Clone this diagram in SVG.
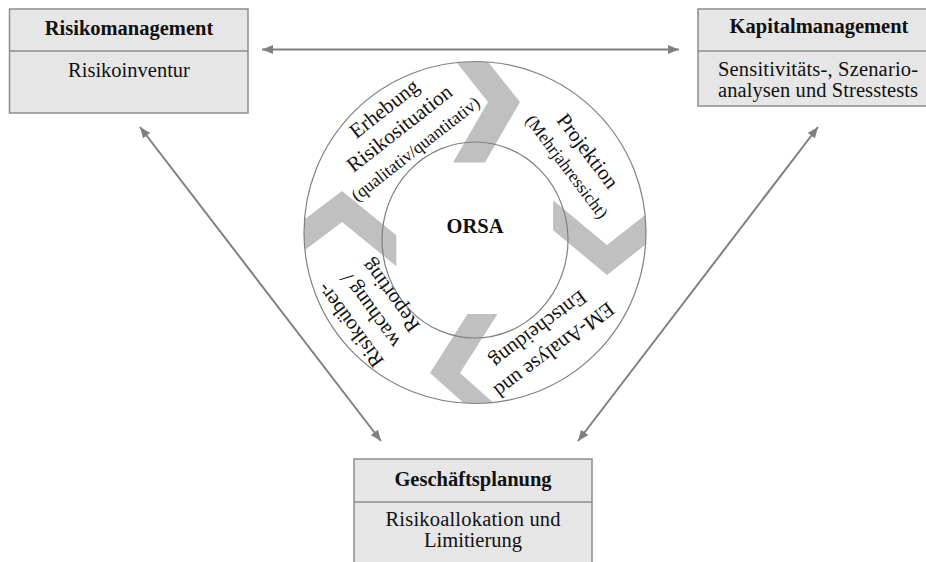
<svg xmlns="http://www.w3.org/2000/svg" width="926" height="562" viewBox="0 0 926 562">
  <style>
    .box { fill: #e6e6e6; stroke: #8c8c8c; stroke-width: 1.5; }
    .div { stroke: #8c8c8c; stroke-width: 1.5; }
    .t { font-family: "Liberation Serif", "Times New Roman", serif; font-size: 20.5px; fill: #111111; text-anchor: middle; }
    .b { font-weight: bold; }
    .seg { font-size: 21px; }
    .s { font-size: 17.5px; }
    .link { stroke: #808080; stroke-width: 2; fill: none; marker-start: url(#arr); marker-end: url(#arr); }
    .chev { fill: #c0c0c0; }
    .ring { fill: none; stroke: #808080; stroke-width: 1.2; }
  </style>
  <defs>
    <marker id="arr" markerUnits="userSpaceOnUse" markerWidth="12" markerHeight="10" refX="11" refY="5" orient="auto-start-reverse">
      <path d="M0,0.5 L11,5 L0,9.5 z" fill="#808080"/>
    </marker>
    <clipPath id="outerClip">
      <circle cx="475" cy="232.5" r="171"/>
    </clipPath>
  </defs>

  <rect width="926" height="562" fill="#ffffff"/>

  <!-- connectors between the three management areas -->
  <g id="connectors">
    <line class="link" x1="262" y1="49.5" x2="679" y2="49.5"/>
    <line class="link" x1="140" y1="127" x2="381" y2="441"/>
    <line class="link" x1="818" y1="127" x2="578" y2="441"/>
  </g>

  <!-- ORSA cycle -->
  <g id="orsa-cycle">
    <circle cx="475" cy="232.5" r="171" fill="#ffffff"/>
    <g clip-path="url(#outerClip)">
      <polygon class="chev" points="444.4,47.2 488,102 453,162.6 485,162.6 520,102 476.4,47.2"/>
      <polygon class="chev" points="553.1,200.2 607,245 662,201.6 662,231.6 607,275 553.1,230.2"/>
      <polygon class="chev" points="467.5,313.9 430,373 482.2,419.7 512.2,419.7 460,373 497.5,313.9"/>
      <polygon class="chev" points="286.2,233.2 342,191 396.3,235.3 396.3,266.3 342,222 286.2,264.2"/>
    </g>
    <circle class="ring" cx="475" cy="232.5" r="171"/>
    <ellipse class="ring" cx="475" cy="240" rx="93" ry="98" fill="#ffffff"/>

    <g id="seg-erhebung" transform="translate(400,129) rotate(-38)">
      <text class="t seg" x="0" y="-19">Erhebung</text>
      <text class="t seg" x="0" y="6">Risikosituation</text>
      <text class="t s" x="0" y="31">(qualitativ/quantitativ)</text>
    </g>
    <g id="seg-projektion" transform="translate(577,159) rotate(53)">
      <text class="t seg" x="0" y="-6.5">Projektion</text>
      <text class="t s" x="0" y="18.5">(Mehrjahressicht)</text>
    </g>
    <g id="seg-analyse" transform="translate(546,339) rotate(143)">
      <text class="t seg" x="0" y="-7">EM-Analyse und</text>
      <text class="t seg" x="0" y="19">Entscheidung</text>
    </g>
    <g id="seg-reporting" transform="translate(371,310) rotate(234)">
      <text class="t seg" x="0" y="-19">Risikoüber-</text>
      <text class="t seg" x="0" y="6">wachung /</text>
      <text class="t seg" x="0" y="31">Reporting</text>
    </g>
    <text class="t b" x="475" y="233">ORSA</text>
  </g>

  <g id="risikomanagement">
    <rect class="box" x="9.5" y="9" width="238.5" height="104"/>
    <line class="div" x1="9.5" y1="51" x2="248" y2="51"/>
    <text class="t b" x="129" y="35">Risikomanagement</text>
    <text class="t" x="129" y="77">Risikoinventur</text>
  </g>

  <g id="kapitalmanagement">
    <rect class="box" x="698" y="9" width="242" height="97"/>
    <line class="div" x1="698" y1="51" x2="940" y2="51"/>
    <text class="t b" x="819" y="33">Kapitalmanagement</text>
    <text class="t" x="818" y="76" textLength="200" lengthAdjust="spacing">Sensitivitäts-, Szenario-</text>
    <text class="t" x="818" y="97" textLength="200" lengthAdjust="spacing">analysen und Stresstests</text>
  </g>

  <g id="geschaeftsplanung">
    <rect class="box" x="354" y="459" width="238" height="120"/>
    <line class="div" x1="354" y1="502" x2="592" y2="502"/>
    <text class="t b" x="473" y="486">Geschäftsplanung</text>
    <text class="t" x="473" y="526" textLength="175" lengthAdjust="spacing">Risikoallokation und</text>
    <text class="t" x="473" y="547">Limitierung</text>
  </g>
</svg>
